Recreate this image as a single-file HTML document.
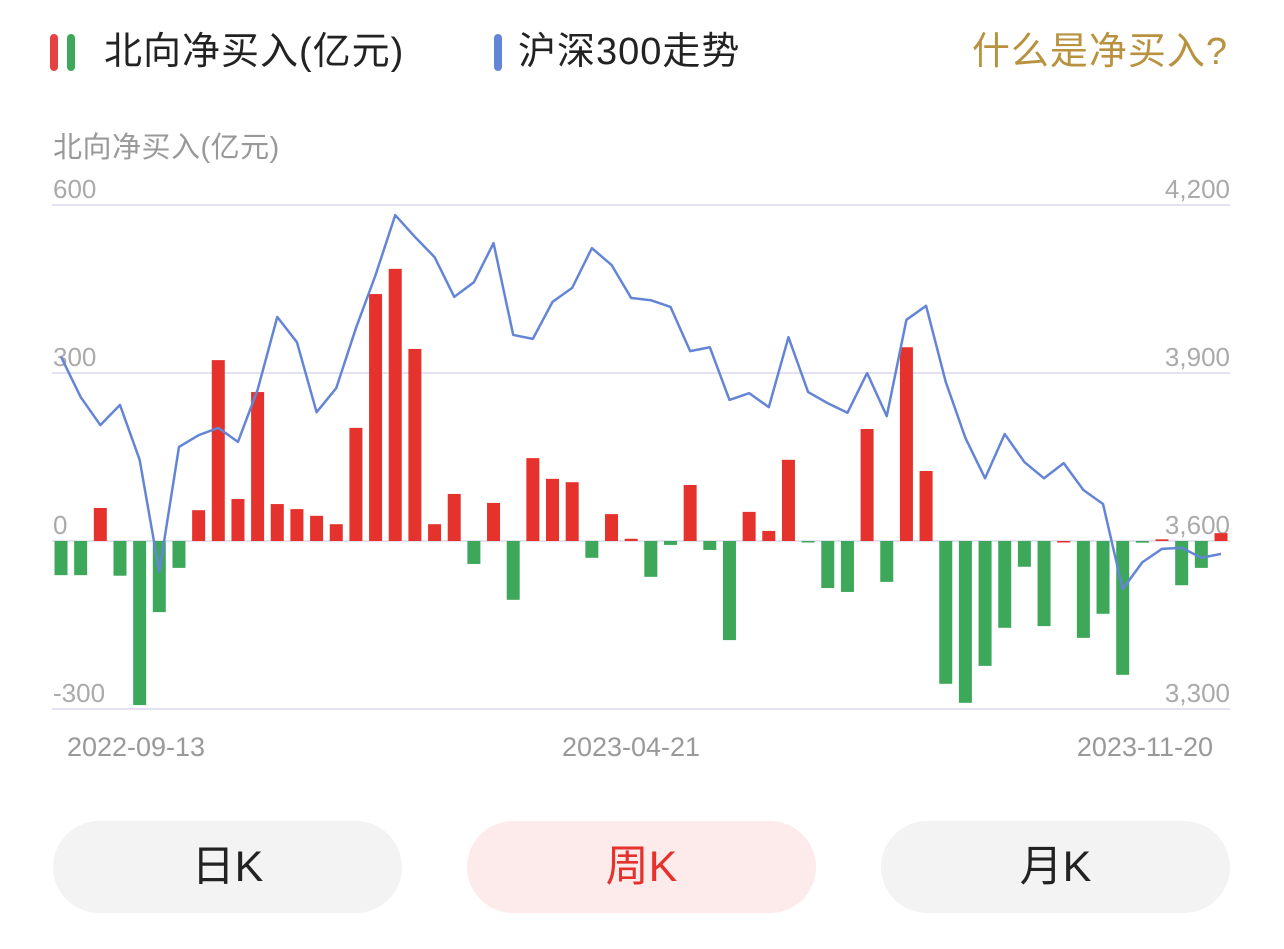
<!DOCTYPE html>
<html><head><meta charset="utf-8">
<style>
body{margin:0;width:1284px;height:949px;background:#fff;overflow:hidden;font-family:"Liberation Sans","Noto Sans CJK SC",sans-serif;position:relative}
.abs{position:absolute}
.mark{position:absolute;width:8px;height:37px;border-radius:4px;top:34px}
.leg{position:absolute;top:29px;font-size:38px;color:#222;line-height:46px;letter-spacing:1px}
.btn{position:absolute;top:821px;width:349px;height:92px;border-radius:46px;background:#f3f3f3;font-size:43px;line-height:92px;text-align:center;color:#222}
</style></head><body>
<div class="mark" style="left:50px;background:#e54343"></div>
<div class="mark" style="left:67px;background:#3ea85a"></div>
<div class="leg" style="left:104px">北向净买入(亿元)</div>
<div class="mark" style="left:494px;background:#6485d6"></div>
<div class="leg" style="left:518px">沪深300走势</div>
<div class="leg" style="right:56px;color:#b8923f">什么是净买入?</div>
<div class="abs" style="left:53px;top:124px;font-size:29px;color:#999;letter-spacing:0.5px">北向净买入(亿元)</div>
<svg class="abs" style="left:0;top:0" width="1284" height="800" id="chart"></svg>
<div class="btn" style="left:53px">日K</div>
<div class="btn" style="left:467px;background:#fdeaea;color:#e5322d">周K</div>
<div class="btn" style="left:881px">月K</div>
<script>
const netBuy=[-61,-61,59,-62,-293,-127,-48,55,323,75,266,66,57,45,30,202,441,486,343,30,84,-41,68,-105,148,111,105,-30,48,4,-64,-7,100,-16,-177,52,18,145,-2,-84,-91,200,-73,346,125,-255,-289,-223,-155,-46,-152,0,-173,-130,-239,-3,3,-79,-48,14];
const csi300=[3929,3857,3807,3843,3745,3545,3768,3789,3802,3777,3870,4000,3955,3830,3873,3980,4075,4182,4143,4107,4036,4062,4132,3968,3961,4027,4052,4123,4093,4034,4030,4018,3939,3946,3852,3864,3839,3964,3866,3846,3829,3900,3823,3995,4020,3884,3784,3712,3791,3741,3712,3739,3691,3666,3514,3562,3586,3588,3570,3577];
const leftTicks=[600,300,0,-300];
const rightTicks=["4,200","3,900","3,600","3,300"];
const rightVals=[4200,3900,3600,3300];
const dateLabels=["2022-09-13","2023-04-21","2023-11-20"];
const NS="http://www.w3.org/2000/svg";
const svg=document.getElementById('chart');
const yL=v=>541-(v/300)*168;
const yR=v=>541-((v-3600)/300)*168;
const xI=i=>61+i*(1160/(netBuy.length-1));
function mk(t,a){const e=document.createElementNS(NS,t);for(const k in a)e.setAttribute(k,a[k]);svg.appendChild(e);return e;}
leftTicks.forEach((t,i)=>{
 const g=mk('line',{x1:52,x2:1230,y1:yL(t),y2:yL(t),stroke:'#e2e2f0','stroke-width':2});
 
 
 const l=mk('text',{x:53,y:yL(t)-7,'font-size':26,fill:'#aaa'});l.textContent=t;
 
 
 const r=mk('text',{x:1230,y:yR(rightVals[i])-7,'font-size':26,fill:'#aaa','text-anchor':'end'});r.textContent=rightTicks[i];
 
 
});
netBuy.forEach((v,i)=>{
 const y0=yL(0),y1=yL(v);
 const b=mk('rect',{x:xI(i)-6.5,width:13,y:Math.min(y0,y1),height:Math.max(Math.abs(y1-y0),1.5),fill:v>=0?'#e5322d':'#3ea85a'});
 
 
});
const p=mk('polyline',{points:csi300.map((v,i)=>xI(i)+','+yR(v)).join(' '),fill:'none',stroke:'#6485d6','stroke-width':2.5,'stroke-linejoin':'round'});


[[136,'middle'],[631,'middle'],[1213,'end']].forEach((d,i)=>{
 const t=mk('text',{x:d[0],y:756,'font-size':27,fill:'#999','text-anchor':d[1]});t.textContent=dateLabels[i];
 
 
});
</script>
</body></html>
